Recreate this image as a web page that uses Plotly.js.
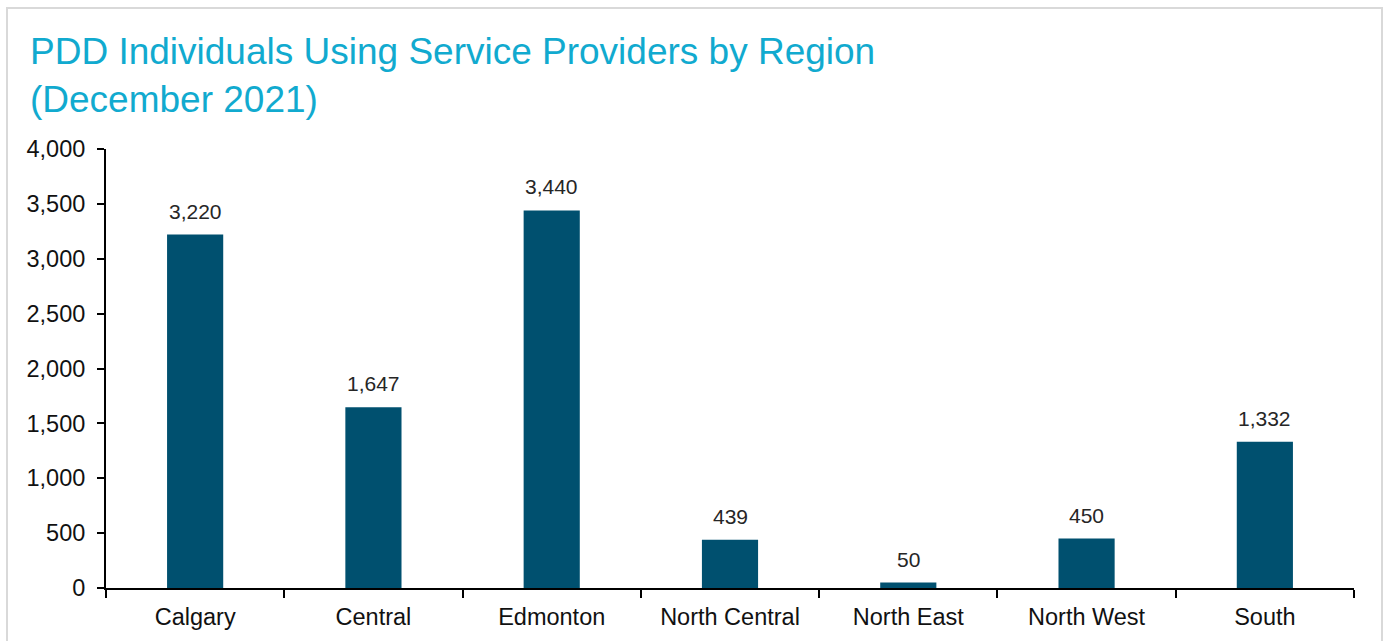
<!DOCTYPE html>
<html>
<head>
<meta charset="utf-8">
<script src="https://cdn.plot.ly/plotly-3.0.1.min.js"></script>
<style>
html,body{margin:0;padding:0;background:#fff;}
#wrap{position:relative;width:1389px;height:641px;}
#chart{position:absolute;left:0;top:0;width:1389px;height:641px;}
#frame{position:absolute;left:6px;top:7px;width:1373px;height:640px;border:2px solid #d9d9d9;pointer-events:none;}
</style>
</head>
<body>
<div id="wrap"><div id="chart"></div><div id="frame"></div></div>
<script>
const regions = ["Calgary","Central","Edmonton","North Central","North East","North West","South"];
const individuals = [3220,1647,3440,439,50,450,1332];
const yTicks = [0,500,1000,1500,2000,2500,3000,3500,4000];
const yTickLabels = ["0","500","1,000","1,500","2,000","2,500","3,000","3,500","4,000"];
const FONT = "Liberation Sans, Arial, sans-serif";

const trace = {
  type: "bar",
  x: regions,
  y: individuals,
  marker: {color: "#00506F"},
  hoverinfo: "x+y"
};

const labels = regions.map((r, i) => ({
  x: r, y: individuals[i], xref: "x", yref: "y",
  text: individuals[i].toLocaleString("en-US"),
  showarrow: false, yanchor: "bottom", yshift: 10,
  font: {family: FONT, size: 21, color: "#262626"}
}));

const layout = {
  width: 1389, height: 641,
  margin: {l: 106, r: 35, t: 149, b: 53},
  paper_bgcolor: "rgba(0,0,0,0)",
  plot_bgcolor: "rgba(0,0,0,0)",
  bargap: 0.685,
  showlegend: false,
  font: {family: FONT, color: "#000"},
  title: {
    text: "PDD Individuals Using Service Providers by Region<br>(December 2021)",
    x: 0, xref: "container", xanchor: "left",
    y: 0.944, yref: "container", yanchor: "top",
    pad: {t: 28, l: 30},
    font: {family: FONT, size: 37, color: "#11AACF"}
  },
  annotations: labels,
  xaxis: {
    type: "category",
    showline: true, linecolor: "#000", linewidth: 2,
    ticks: "outside", tickson: "boundaries", ticklen: 8, tickwidth: 2, tickcolor: "#000",
    ticklabelstandoff: 7,
    tickfont: {size: 23.5, color: "#111"},
    showgrid: false, zeroline: false
  },
  yaxis: {
    range: [0, 4000],
    tickvals: yTicks, ticktext: yTickLabels,
    showline: true, linecolor: "#000", linewidth: 2,
    ticks: "outside", ticklen: 7, tickwidth: 2, tickcolor: "#000",
    ticklabelstandoff: 7,
    tickfont: {size: 23.5, color: "#111"},
    showgrid: false, zeroline: false
  }
};

Plotly.newPlot("chart", [trace], layout, {displayModeBar: false, staticPlot: true});
</script>
</body>
</html>
